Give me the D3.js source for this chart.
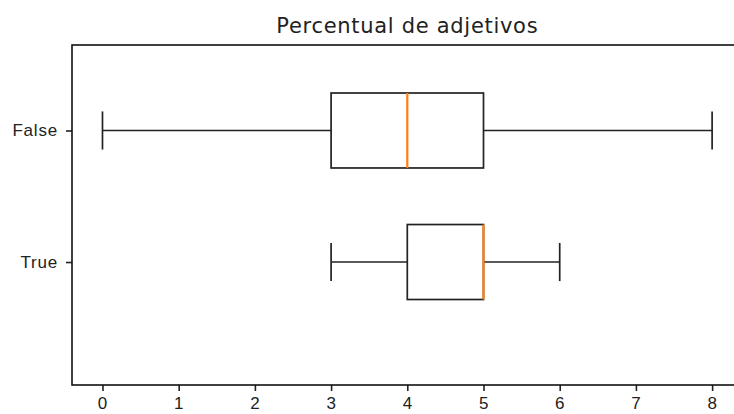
<!DOCTYPE html>
<html>
<head>
<meta charset="utf-8">
<script src="https://cdn.jsdelivr.net/npm/d3@7"></script>
<style>
	body { margin: 0; background: #fff; }
	svg { display: block; font-family: 'DejaVu Sans', sans-serif; }
	.axis path, .axis line { stroke: #222; stroke-width: 1.6; }
	.axis text { fill: #222; font-size: 17px; letter-spacing: 0.8px; }
</style>
</head>
<body>
<script>
// groups shown on the y axis and their five-number summaries
var categories = ['False', 'True'],
	whiskerLow = [0, 3],
	q1 = [3, 4],
	median = [4, 5],
	q3 = [5, 5],
	whiskerHigh = [8, 6],
	xTicks = [0, 1, 2, 3, 4, 5, 6, 7, 8];

var W = 734, H = 414;
var plotLeft = 72, plotTop = 45, plotBottom = 385, plotRight = 742.6;

var svg = d3.select('body').append('svg')
	.attr('width', W)
	.attr('height', H);

// scales (matplotlib-ish limits: 5% margin on x)
var xScale = d3.scaleLinear().domain([-0.4, 8.4]).range([plotLeft, plotRight]),
	yScale = d3.scaleLinear().domain([0.35, 2.935]).range([plotTop, plotBottom]);

var boxW = 0.57, capW = 0.29;

var boxes = categories.map(function(c, i) {
	return { name: c, pos: i + 1, lo: whiskerLow[i], q1: q1[i], med: median[i], q3: q3[i], hi: whiskerHigh[i] };
});

// axes
svg.append('g')
	.attr('class', 'axis')
	.attr('transform', `translate(0, ${plotBottom})`)
	.call(d3.axisBottom(xScale).tickValues(xTicks).tickSize(6).tickPadding(6).tickSizeOuter(0))
	.select('.domain').remove();

svg.append('g')
	.attr('class', 'axis')
	.attr('transform', `translate(${plotLeft}, 0)`)
	.call(d3.axisLeft(yScale).tickValues([1, 2]).tickFormat(function(d) { return categories[d - 1]; })
		.tickSize(6).tickPadding(8).tickSizeOuter(0))
	.select('.domain').remove();

// frame (right spine falls outside the picture)
svg.append('rect')
	.attr('x', plotLeft)
	.attr('y', plotTop)
	.attr('width', plotRight - plotLeft)
	.attr('height', plotBottom - plotTop)
	.attr('fill', 'none')
	.attr('stroke', '#111')
	.attr('stroke-width', 1.6);

var g = svg.selectAll('.box').data(boxes).enter().append('g').attr('class', 'box');
var stroke = '#222', sw = 1.7;

// whiskers
g.append('line')
	.attr('x1', function(d) { return xScale(d.lo); })
	.attr('x2', function(d) { return xScale(d.q1); })
	.attr('y1', function(d) { return yScale(d.pos); })
	.attr('y2', function(d) { return yScale(d.pos); })
	.attr('stroke', stroke).attr('stroke-width', sw);
g.append('line')
	.attr('x1', function(d) { return xScale(d.q3); })
	.attr('x2', function(d) { return xScale(d.hi); })
	.attr('y1', function(d) { return yScale(d.pos); })
	.attr('y2', function(d) { return yScale(d.pos); })
	.attr('stroke', stroke).attr('stroke-width', sw);

// caps
['lo', 'hi'].forEach(function(k) {
	g.append('line')
		.attr('x1', function(d) { return xScale(d[k]); })
		.attr('x2', function(d) { return xScale(d[k]); })
		.attr('y1', function(d) { return yScale(d.pos - capW / 2); })
		.attr('y2', function(d) { return yScale(d.pos + capW / 2); })
		.attr('stroke', stroke).attr('stroke-width', sw);
});

// box
g.append('rect')
	.attr('x', function(d) { return xScale(d.q1); })
	.attr('y', function(d) { return yScale(d.pos - boxW / 2); })
	.attr('width', function(d) { return xScale(d.q3) - xScale(d.q1); })
	.attr('height', function(d) { return yScale(d.pos + boxW / 2) - yScale(d.pos - boxW / 2); })
	.attr('fill', 'none')
	.attr('stroke', stroke).attr('stroke-width', sw);

// median
g.append('line')
	.attr('x1', function(d) { return xScale(d.med); })
	.attr('x2', function(d) { return xScale(d.med); })
	.attr('y1', function(d) { return yScale(d.pos - boxW / 2); })
	.attr('y2', function(d) { return yScale(d.pos + boxW / 2); })
	.attr('stroke', '#ff7f0e').attr('stroke-width', 2.2);

// title
svg.append('text')
	.attr('x', (plotLeft + plotRight) / 2)
	.attr('y', 33)
	.attr('text-anchor', 'middle')
	.attr('font-size', 21)
	.attr('letter-spacing', '0.7px')
	.attr('fill', '#222')
	.text('Percentual de adjetivos');
</script>
</body>
</html>
